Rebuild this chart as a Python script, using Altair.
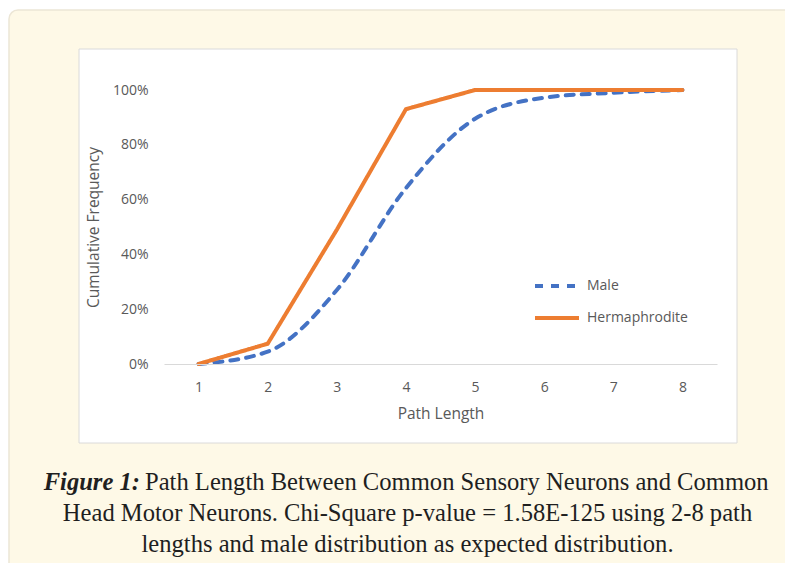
import altair as alt
import pandas as pd

# ---- data ----
path_length = [1, 2, 3, 4, 5, 6, 7, 8]
male = [0.0, 0.045, 0.27, 0.642, 0.895, 0.972, 0.99, 1.0]
hermaphrodite = [0.0, 0.074, 0.49, 0.93, 1.0, 1.0, 1.0, 1.0]
series = ["Male", "Hermaphrodite"]
colors = ["#4472C4", "#ED7D31"]
dashes = [[8, 8], [1, 0]]
y_ticks = [0, 0.2, 0.4, 0.6, 0.8, 1.0]
x_ticks = path_length
caption_head = "Figure 1:"
caption_line1 = "Path Length Between Common Sensory Neurons and Common"
caption_line2 = "Head Motor Neurons. Chi-Square p-value = 1.58E-125 using 2-8 path"
caption_line3 = "lengths and male distribution as expected distribution."

rows = []
for s, vals in zip(series, [male, hermaphrodite]):
    for x, v in zip(path_length, vals):
        rows.append({"Path Length": x, "Cumulative Frequency": v, "Sex": s})
df = pd.DataFrame(rows)

GRAY = "#595959"
FONT = "Open Sans"
SERIF = "Liberation Serif"

one = alt.Data(values=[{}])

card = alt.Chart(one).mark_rect(
    fill="#FEF9E7", stroke="#ECE6D6", strokeWidth=1.5, cornerRadius=9
).encode(
    x=alt.value(-155), x2=alt.value(700), y=alt.value(-80), y2=alt.value(520)
)

box = alt.Chart(one).mark_rect(
    fill="white", stroke="#DADADA", strokeWidth=1
).encode(
    x=alt.value(-85), x2=alt.value(573), y=alt.value(-41), y2=alt.value(353)
)

x_enc = alt.X(
    "Path Length:Q",
    scale=alt.Scale(domain=[0.5, 8.5], nice=False, zero=False),
    axis=alt.Axis(
        values=x_ticks, format="d", title="Path Length", zindex=2,
        domainColor="#D9D9D9", domainWidth=1.2, ticks=False, grid=False,
        labelPadding=16, titlePadding=12,
    ),
)
y_enc = alt.Y(
    "Cumulative Frequency:Q",
    scale=alt.Scale(domain=[0, 1], nice=False),
    axis=alt.Axis(
        values=y_ticks, format=".0%", title="Cumulative Frequency", zindex=2,
        domain=False, ticks=False, grid=False, labelPadding=16, titlePadding=11,
    ),
)
color_enc = alt.Color(
    "Sex:N",
    scale=alt.Scale(domain=series, range=colors),
    sort=series,
    legend=alt.Legend(
        title=None,
        orient="none",
        legendX=380,
        legendY=183,
        symbolType="M-2,0H2",
        symbolSize=484,
        symbolStrokeWidth=4,
        labelOffset=17,
        rowPadding=11,
        labelFont=FONT,
        labelFontSize=14,
        labelColor=GRAY,
    ),
)
dash_enc = alt.StrokeDash(
    "Sex:N", scale=alt.Scale(domain=series, range=dashes), sort=series, legend=None
)

base = alt.Chart(df).encode(x=x_enc, y=y_enc, color=color_enc, strokeDash=dash_enc)

male_line = base.transform_filter(alt.datum.Sex == "Male").mark_line(
    strokeWidth=4, interpolate="monotone", strokeCap="round"
)
herm_line = base.transform_filter(alt.datum.Sex == "Hermaphrodite").mark_line(
    strokeWidth=4, interpolate="linear", strokeCap="round", strokeJoin="miter"
)

cap_style = dict(font=SERIF, fontSize=24.6, color="#1f1f1f", baseline="middle")
cap_head = alt.Chart(one).mark_text(
    text=caption_head, align="right", fontWeight="bold", fontStyle="italic", **cap_style
).encode(x=alt.value(-24), y=alt.value(393))
cap_l1 = alt.Chart(one).mark_text(text=caption_line1, align="left", **cap_style).encode(
    x=alt.value(-19), y=alt.value(393)
)
cap_l2 = alt.Chart(one).mark_text(text=caption_line2, align="center", **cap_style).encode(
    x=alt.value(243.5), y=alt.value(424)
)
cap_l3 = alt.Chart(one).mark_text(text=caption_line3, align="center", **cap_style).encode(
    x=alt.value(243.5), y=alt.value(455)
)

chart = alt.layer(
    card, box, male_line, herm_line, cap_head, cap_l1, cap_l2, cap_l3
).properties(
    width=553,
    height=274,
    autosize=alt.AutoSizeParams(type="none"),
    padding={"left": 156, "top": 82, "right": 68, "bottom": 199},
    background="white",
).configure_view(
    strokeWidth=0
).configure_axis(
    labelFont=FONT,
    labelFontSize=14,
    labelColor=GRAY,
    titleFont=FONT,
    titleFontSize=15.5,
    titleFontWeight="normal",
    titleColor=GRAY,
)

chart.save("out.html", embed_options={"renderer": "svg", "actions": False})
